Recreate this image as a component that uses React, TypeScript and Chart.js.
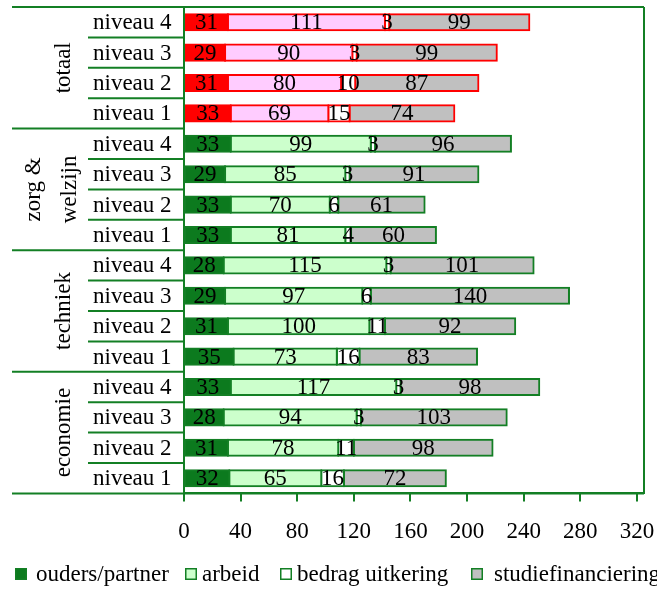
import React, { useEffect, useRef } from 'react';
import { Chart, registerables } from 'chart.js';

Chart.register(...registerables);

const categories = [
  'niveau 4', 'niveau 3', 'niveau 2', 'niveau 1',
  'niveau 4', 'niveau 3', 'niveau 2', 'niveau 1',
  'niveau 4', 'niveau 3', 'niveau 2', 'niveau 1',
  'niveau 4', 'niveau 3', 'niveau 2', 'niveau 1',
];
const groupLabels = [['totaal'], ['zorg &', 'welzijn'], ['techniek'], ['economie']];
const seriesNames = ['ouders/partner', 'arbeid', 'bedrag uitkering', 'studiefinanciering'];

const ouders = [31, 29, 31, 33, 33, 29, 33, 33, 28, 29, 31, 35, 33, 28, 31, 32];
const arbeid = [111, 90, 80, 69, 99, 85, 70, 81, 115, 97, 100, 73, 117, 94, 78, 65];
const uitkering = [3, 3, 10, 15, 3, 3, 6, 4, 3, 6, 11, 16, 3, 3, 11, 16];
const studiefinanciering = [99, 99, 87, 74, 96, 91, 61, 60, 101, 140, 92, 83, 98, 103, 98, 72];

const xTicks = [0, 40, 80, 120, 160, 200, 240, 280, 320];
const xMax = 325;

const GREEN = '#137f24';
const RED = '#ff0000';
const totaalFills = ['#ff0000', '#ffccff', '#ffffff', '#c0c0c0'];
const groupFills = ['#0c7a1e', '#ccffcc', '#ffffff', '#c0c0c0'];
const legendFills = ['#0c7a1e', '#ccffcc', '#ffffff', '#c0c0c0'];
const legendBoxX = [15, 185, 280, 471];
const legendTextX = [36, 202, 297, 494];

const FONT = "'Liberation Serif', 'Times New Roman', serif";
const FS = 23;
const LEGEND_FS = 23;

const seriesValues = [ouders, arbeid, uitkering, studiefinanciering];

const overlayPlugin = {
  id: 'overlay',
  afterDatasetsDraw(chart: any) {
    const ctx = chart.ctx;
    ctx.save();
    ctx.font = `${FS}px ${FONT}`;
    ctx.fillStyle = '#000';
    ctx.textAlign = 'center';
    ctx.textBaseline = 'middle';
    chart.data.datasets.forEach((ds: any, di: number) => {
      const meta = chart.getDatasetMeta(di);
      meta.data.forEach((el: any, i: number) => {
        const cx = (el.x + el.base) / 2;
        ctx.fillText(String(ds.data[i]), cx, el.y + 1);
      });
    });
    ctx.restore();
  },
  afterDraw(chart: any) {
    const ctx = chart.ctx;
    const area = chart.chartArea;
    const y = chart.scales.y;
    const n = categories.length;
    ctx.save();
    ctx.strokeStyle = GREEN;
    ctx.lineWidth = 2;
    const line = (x1: number, y1: number, x2: number, y2: number) => {
      ctx.beginPath();
      ctx.moveTo(x1, y1);
      ctx.lineTo(x2, y2);
      ctx.stroke();
    };
    // frame
    line(12, area.top, area.right, area.top);
    line(12, area.bottom, area.right, area.bottom);
    line(area.left, area.top, area.left, area.bottom);
    line(area.right, area.top, area.right, area.bottom);
    // separators
    for (let i = 0; i < n - 1; i++) {
      const sy = (y.getPixelForValue(i) + y.getPixelForValue(i + 1)) / 2;
      if ((i + 1) % 4 === 0) line(12, sy, area.left, sy);
      else line(88, sy, area.left, sy);
    }
    // category labels
    ctx.font = `${FS}px ${FONT}`;
    ctx.fillStyle = '#000';
    ctx.textAlign = 'left';
    ctx.textBaseline = 'middle';
    categories.forEach((c, i) => {
      ctx.fillText(c, 93, y.getPixelForValue(i) + 1);
    });
    // group labels
    groupLabels.forEach((lines, g) => {
      const cy = (y.getPixelForValue(g * 4) + y.getPixelForValue(g * 4 + 3)) / 2;
      const nl = lines.length;
      lines.forEach((t, k) => {
        const lx = 64 + 6 * (nl - 1) - (nl - 1 - k) * 36;
        ctx.save();
        ctx.translate(lx, cy);
        ctx.rotate(-Math.PI / 2);
        ctx.textAlign = 'center';
        ctx.textBaseline = 'middle';
        ctx.fillText(t, 0, 0);
        ctx.restore();
      });
    });
    // legend
    ctx.font = `${LEGEND_FS}px ${FONT}`;
    const ly = 574;
    seriesNames.forEach((name, i) => {
      const bx = legendBoxX[i];
      ctx.fillStyle = legendFills[i];
      ctx.fillRect(bx, ly - 6, 12, 12);
      ctx.strokeStyle = GREEN;
      ctx.lineWidth = 1.5;
      ctx.strokeRect(bx + 0.75, ly - 5.25, 10.5, 10.5);
      ctx.fillStyle = '#000';
      ctx.textAlign = 'left';
      ctx.textBaseline = 'alphabetic';
      ctx.fillText(name, legendTextX[i], ly + 7);
    });
    ctx.restore();
  },
};

export default function App() {
  const canvasRef = useRef<HTMLCanvasElement | null>(null);

  useEffect(() => {
    const canvas = canvasRef.current;
    if (!canvas) return;
    const isTotaal = (i: number) => i < 4;
    const datasets = seriesNames.map((name, s) => ({
      label: name,
      data: seriesValues[s],
      backgroundColor: categories.map((_, i) => (isTotaal(i) ? totaalFills[s] : groupFills[s])),
      borderColor: categories.map((_, i) => (isTotaal(i) ? RED : GREEN)),
      borderWidth: 2,
      borderSkipped: false,
      inflateAmount: 1,
      barPercentage: 0.53,
      categoryPercentage: 1,
    }));
    const chart = new Chart(canvas, {
      type: 'bar',
      data: { labels: categories, datasets },
      options: {
        indexAxis: 'y',
        responsive: false,
        animation: false,
        layout: { padding: { left: 184, right: 13, top: 7, bottom: 27 } },
        plugins: { legend: { display: false }, tooltip: { enabled: false } },
        scales: {
          x: {
            type: 'linear',
            stacked: true,
            min: 0,
            max: xMax,
            afterBuildTicks: (axis: any) => {
              axis.ticks = xTicks.map((v) => ({ value: v }));
            },
            afterFit: (axis: any) => {
              axis.paddingLeft = 0;
              axis.paddingRight = 0;
            },
            grid: {
              drawOnChartArea: false,
              drawTicks: true,
              tickLength: 8,
              color: GREEN,
              lineWidth: 2,
            },
            border: { display: true, color: GREEN, width: 2 },
            ticks: {
              color: '#000',
              font: { family: FONT, size: FS },
              padding: 17,
              maxRotation: 0,
              autoSkip: false,
            },
          },
          y: {
            type: 'category',
            stacked: true,
            display: false,
          },
        },
      },
      plugins: [overlayPlugin],
    } as any);
    return () => chart.destroy();
  }, []);

  return (
    <div style={{ position: 'fixed', left: 0, top: 0, width: 657, height: 590, background: '#fff' }}>
      <canvas ref={canvasRef} width={657} height={590} style={{ display: 'block' }} />
    </div>
  );
}
